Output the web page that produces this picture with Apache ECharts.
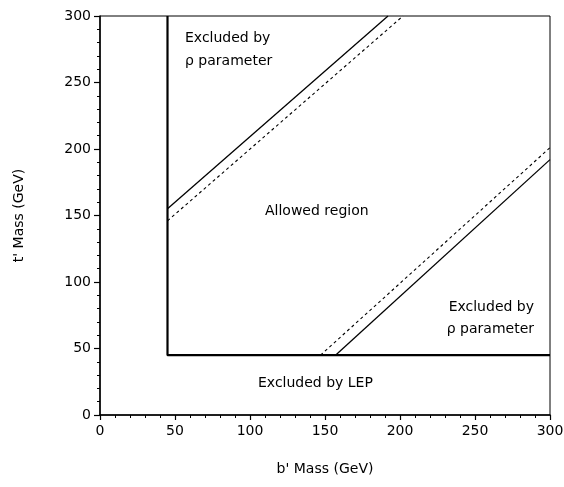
<!DOCTYPE html>
<html><head><meta charset="utf-8">
<script src="https://cdn.jsdelivr.net/npm/echarts@6/dist/echarts.min.js"></script>
<style>html,body{margin:0;padding:0;background:#fff}#c{width:564px;height:487px}</style>
</head><body><div id="c"></div>
<script>
// Axis ticks
const xTicks = [0, 50, 100, 150, 200, 250, 300];
const yTicks = [0, 50, 100, 150, 200, 250, 300];
// LEP exclusion boundary (b' mass, t' mass)
const lepB = [45, 45, 300];
const lepT = [300, 45, 45];
// Upper rho-parameter bounds
const upperSolidB = [45, 192];
const upperSolidT = [155, 300];
const upperDashedB = [45, 202];
const upperDashedT = [146, 300];
// Lower rho-parameter bounds
const lowerDashedB = [147, 300];
const lowerDashedT = [45, 201];
const lowerSolidB = [157, 300];
const lowerSolidT = [45, 192];

const pairs = (xs, ys) => xs.map((x, i) => [x, ys[i]]);
const font = 'DejaVu Sans, sans-serif';
const txt = { fontFamily: font, fontSize: 14, fill: '#000' };

const chart = echarts.init(document.getElementById('c'));
chart.setOption({
  animation: false,
  backgroundColor: '#fff',
  grid: { left: 100, right: 14, top: 16, bottom: 72, containLabel: false, outerBoundsMode: 'none', show: true, borderColor: '#000', borderWidth: 1, backgroundColor: 'transparent' },
  xAxis: {
    type: 'value', min: xTicks[0], max: xTicks[xTicks.length - 1], interval: 50,
    name: "b' Mass (GeV)", nameLocation: 'middle', nameGap: 47,
    nameTextStyle: { fontFamily: font, fontSize: 14, color: '#000' },
    axisLine: { lineStyle: { color: '#000', width: 1.5 } },
    axisTick: { length: 5, lineStyle: { color: '#000', width: 1.2 } },
    minorTick: { show: true, splitNumber: 5, length: 3, lineStyle: { color: '#000', width: 1 } },
    axisLabel: { fontFamily: font, fontSize: 14, color: '#000', margin: 9 },
    splitLine: { show: false }
  },
  yAxis: {
    type: 'value', min: yTicks[0], max: yTicks[yTicks.length - 1], interval: 50,
    name: "t' Mass (GeV)", nameLocation: 'middle', nameGap: 74,
    nameTextStyle: { fontFamily: font, fontSize: 14, color: '#000' },
    axisLine: { show: true, lineStyle: { color: '#000', width: 1.5 } },
    axisTick: { show: true, length: 6, lineStyle: { color: '#000', width: 1.2 } },
    minorTick: { show: true, splitNumber: 5, length: 3, lineStyle: { color: '#000', width: 1 } },
    axisLabel: { fontFamily: font, fontSize: 14, color: '#000', margin: 9 },
    splitLine: { show: false }
  },
  series: [
    { type: 'line', data: pairs(lepB, lepT), symbol: 'none', lineStyle: { color: '#000', width: 2.2 } },
    { type: 'line', data: pairs(upperSolidB, upperSolidT), symbol: 'none', lineStyle: { color: '#000', width: 1.3 } },
    { type: 'line', data: pairs(upperDashedB, upperDashedT), symbol: 'none', lineStyle: { color: '#000', width: 1.1, type: [3, 3] } },
    { type: 'line', data: pairs(lowerDashedB, lowerDashedT), symbol: 'none', lineStyle: { color: '#000', width: 1.1, type: [3, 3] } },
    { type: 'line', data: pairs(lowerSolidB, lowerSolidT), symbol: 'none', lineStyle: { color: '#000', width: 1.3 } }
  ],
  graphic: [
    { type: 'text', left: 185, top: 31, style: Object.assign({ text: 'Excluded by' }, txt) },
    { type: 'text', left: 185, top: 54, style: Object.assign({ text: 'ρ parameter' }, txt) },
    { type: 'text', left: 265, top: 204, style: Object.assign({ text: 'Allowed region' }, txt) },
    { type: 'text', right: 30, top: 300, style: Object.assign({ text: 'Excluded by' }, txt) },
    { type: 'text', right: 30, top: 322, style: Object.assign({ text: 'ρ parameter' }, txt) },
    { type: 'text', left: 258, top: 376, style: Object.assign({ text: 'Excluded by LEP' }, txt) }
  ]
});
</script></body></html>
